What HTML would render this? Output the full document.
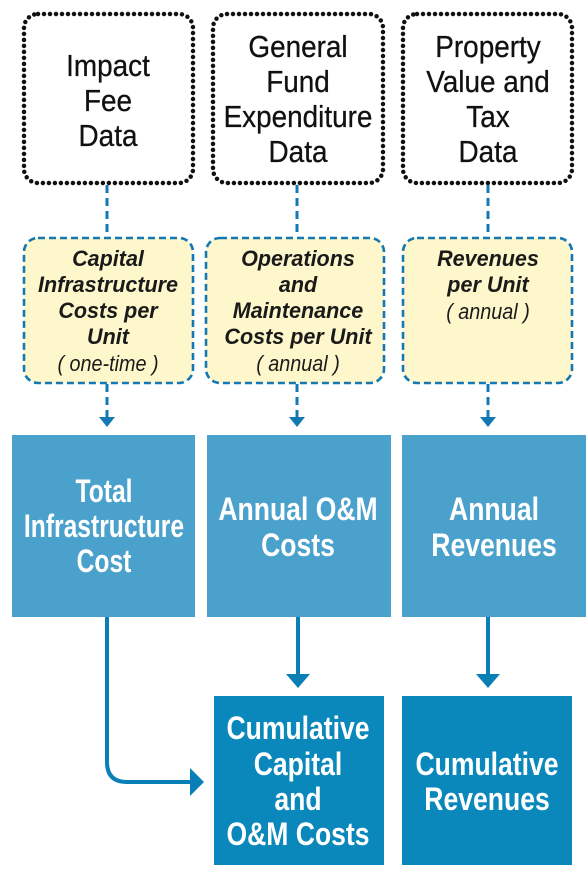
<!DOCTYPE html>
<html><head><meta charset="utf-8"><style>
html,body{margin:0;padding:0;background:#fff;width:586px;height:875px;overflow:hidden}
svg{display:block}
text{font-family:"Liberation Sans",Arial,sans-serif;text-anchor:middle}
.t{font-size:31px;fill:#111;stroke:#111;stroke-width:0.3}
.y{font-size:22px;font-weight:bold;font-style:italic;fill:#1a1a1a}
.yi{font-size:22px;font-style:italic;fill:#1a1a1a}
.w{font-size:32px;font-weight:bold;fill:#fff}
</style></head><body>
<svg width="586" height="875" viewBox="0 0 586 875">
<g fill="none" stroke="#111" stroke-width="4.5" stroke-linecap="round" stroke-dasharray="0 6">
<rect x="24" y="14" width="169" height="169" rx="14"/>
<rect x="213" y="14" width="170" height="169" rx="14"/>
<rect x="403" y="14" width="169" height="169" rx="14"/>
</g>
<g stroke="#1479b3" stroke-width="3" stroke-dasharray="8 5" fill="none">
<line x1="107" y1="185" x2="107" y2="237"/>
<line x1="297" y1="185" x2="297" y2="237"/>
<line x1="488" y1="185" x2="488" y2="237"/>
<line x1="107" y1="384" x2="107" y2="418"/>
<line x1="297" y1="384" x2="297" y2="418"/>
<line x1="488" y1="384" x2="488" y2="418"/>
</g>
<g fill="#1479b3">
<polygon points="99,417 115,417 107,427"/>
<polygon points="289,417 305,417 297,427"/>
<polygon points="480,417 496,417 488,427"/>
</g>
<g fill="#fdf7cb" stroke="#1479b3" stroke-width="2.6" stroke-dasharray="7 4">
<rect x="24" y="238" width="169" height="145" rx="14"/>
<rect x="206" y="238" width="178" height="145" rx="14"/>
<rect x="403" y="238" width="169" height="145" rx="14"/>
</g>
<g fill="#4aa1cc">
<rect x="12" y="435" width="183" height="182"/>
<rect x="207" y="435" width="184" height="182"/>
<rect x="402" y="435" width="184" height="182"/>
</g>
<g fill="#0a88bb">
<rect x="214" y="696" width="170" height="169"/>
<rect x="402" y="696" width="170" height="169"/>
</g>
<g stroke="#0a7fb6" stroke-width="4" fill="none">
<path d="M107 617 V762 Q107 782 127 782 H192"/>
<line x1="298" y1="617" x2="298" y2="676"/>
<line x1="488" y1="617" x2="488" y2="676"/>
</g>
<g fill="#0a7fb6">
<polygon points="190,768 204,782 190,796"/>
<polygon points="286,674 310,674 298,688"/>
<polygon points="476,674 500,674 488,688"/>
</g>
<!-- top texts -->
<g transform="translate(108,0) scale(0.9,1)">
<text class="t" y="76">Impact</text><text class="t" y="111">Fee</text><text class="t" y="146">Data</text>
</g>
<g transform="translate(298,0) scale(0.9,1)">
<text class="t" y="57">General</text><text class="t" y="92">Fund</text><text class="t" y="127">Expenditure</text><text class="t" y="162">Data</text>
</g>
<g transform="translate(488,0) scale(0.9,1)">
<text class="t" y="57">Property</text><text class="t" y="92">Value and</text><text class="t" y="127">Tax</text><text class="t" y="162">Data</text>
</g>
<!-- yellow texts -->
<g transform="translate(108,0) scale(0.98,1)">
<text class="y" y="266">Capital</text><text class="y" y="292">Infrastructure</text><text class="y" y="318">Costs per</text><text class="y" y="344">Unit</text>
</g>
<g transform="translate(298,0) scale(0.98,1)">
<text class="y" y="266">Operations</text><text class="y" y="292">and</text><text class="y" y="318">Maintenance</text><text class="y" y="344">Costs per Unit</text>
</g>
<g transform="translate(488,0) scale(0.98,1)">
<text class="y" y="266">Revenues</text><text class="y" y="292">per Unit</text>
</g>
<g transform="translate(108,0) scale(0.9,1)"><text class="yi" y="371">( one-time )</text></g>
<g transform="translate(298,0) scale(0.9,1)"><text class="yi" y="371">( annual )</text></g>
<g transform="translate(488,0) scale(0.9,1)"><text class="yi" y="319">( annual )</text></g>
<!-- blue texts -->
<g transform="translate(104,0) scale(0.77,1)">
<text class="w" y="502">Total</text><text class="w" y="537">Infrastructure</text><text class="w" y="572">Cost</text>
</g>
<g transform="translate(298,0) scale(0.83,1)">
<text class="w" y="520">Annual O&amp;M</text><text class="w" y="556">Costs</text>
<text class="w" y="739">Cumulative</text><text class="w" y="775">Capital</text><text class="w" y="810">and</text><text class="w" y="845">O&amp;M Costs</text>
</g>
<g transform="translate(494,0) scale(0.83,1)">
<text class="w" y="520">Annual</text><text class="w" y="556">Revenues</text>
</g>
<g transform="translate(487,0) scale(0.83,1)">
<text class="w" y="775">Cumulative</text><text class="w" y="810">Revenues</text>
</g>
</svg>
</body></html>
